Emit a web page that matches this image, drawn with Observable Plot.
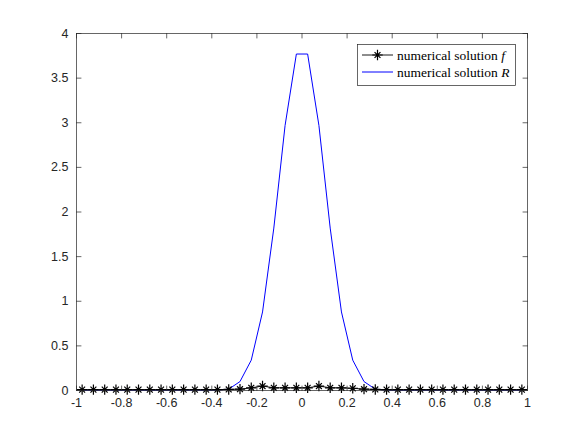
<!DOCTYPE html>
<html><head><meta charset="utf-8">
<script src="https://cdn.jsdelivr.net/npm/d3@7"></script>
<script src="https://cdn.jsdelivr.net/npm/@observablehq/plot@0.6"></script>
<style>
body{margin:0;background:#fff}
#chart{position:relative;width:584px;height:438px}
</style>
</head><body><div id="chart"></div>
<script>
// grid cell centres
const xs = [-0.975,-0.925,-0.875,-0.825,-0.775,-0.725,-0.675,-0.625,-0.575,-0.525,
            -0.475,-0.425,-0.375,-0.325,-0.275,-0.225,-0.175,-0.125,-0.075,-0.025,
             0.025, 0.075, 0.125, 0.175, 0.225, 0.275, 0.325, 0.375, 0.425, 0.475,
             0.525, 0.575, 0.625, 0.675, 0.725, 0.775, 0.825, 0.875, 0.925, 0.975];
// numerical solution f (black stars)
const fVals = [0.01,0.01,0.01,0.01,0.01,0.01,0.01,0.01,0.01,0.01,
               0.01,0.01,0.01,0.012,0.015,0.03,0.05,0.03,0.03,0.03,
               0.03,0.05,0.03,0.03,0.025,0.015,0.012,0.01,0.01,0.01,
               0.01,0.01,0.01,0.01,0.01,0.01,0.01,0.01,0.01,0.01];
// numerical solution R (blue line)
const rVals = [0.003,0.003,0.003,0.003,0.003,0.003,0.003,0.003,0.003,0.003,
               0.003,0.003,0.004,0.015,0.10,0.34,0.88,1.82,2.97,3.77,
               3.77,2.97,1.82,0.88,0.34,0.10,0.015,0.004,0.003,0.003,
               0.003,0.003,0.003,0.003,0.003,0.003,0.003,0.003,0.003,0.003];
const xTicks = [-1,-0.8,-0.6,-0.4,-0.2,0,0.2,0.4,0.6,0.8,1];
const yTicks = [0,0.5,1,1.5,2,2.5,3,3.5,4];
const legendNames = ["numerical solution ", "numerical solution "];
const legendSymbols = ["f", "R"];

const data = xs.map((x, i) => ({x, f: fVals[i], r: rVals[i]}));

const star = {draw(ctx, size){
  const r = Math.sqrt(size / Math.PI);
  for (const a of [0, 45, 90, 135]) {
    const t = a * Math.PI / 180;
    const k = (a % 90 === 0) ? 1 : 0.8;
    ctx.moveTo(r * k * Math.cos(t), r * k * Math.sin(t));
    ctx.lineTo(-r * k * Math.cos(t), -r * k * Math.sin(t));
  }
}};
const tickShape = {draw(ctx, l){ ctx.moveTo(0, 0); ctx.lineTo(0, -l); }};
const axisColor = "#262626";
const tl = 4.5;
const fs = 12.5;
const starR = 5.2;

const chart = Plot.plot({
  width: 584, height: 438,
  marginLeft: 76, marginRight: 57, marginTop: 33, marginBottom: 48,
  x: {domain: [-1, 1]},
  y: {domain: [0, 4]},
  style: {fontFamily: "'Liberation Sans', Arial, sans-serif", fontSize: "12.5px", color: axisColor, background: "white"},
  marks: [
    Plot.line(data, {x: "x", y: "r", stroke: "#0000ff", strokeWidth: 1}),
    Plot.line(data, {x: "x", y: "f", stroke: "black", strokeWidth: 0.9}),
    Plot.dot(data, {x: "x", y: "f", symbol: star, r: starR, stroke: "black", strokeWidth: 1.2}),
    Plot.frame({stroke: axisColor, strokeWidth: 0.7}),
    Plot.axisX({ticks: xTicks, tickSize: 0, tickPadding: 8, fontSize: fs, tickFormat: d => String(d), label: null}),
    Plot.axisY({ticks: yTicks, tickSize: 0, tickPadding: 8, fontSize: fs, tickFormat: d => String(d), label: null}),
    Plot.vector(xTicks, {x: d => d, frameAnchor: "bottom", length: tl, rotate: 0, anchor: "start", shape: tickShape, stroke: axisColor, strokeWidth: 0.7}),
    Plot.vector(xTicks, {x: d => d, frameAnchor: "top", length: tl, rotate: 180, anchor: "start", shape: tickShape, stroke: axisColor, strokeWidth: 0.7}),
    Plot.vector(yTicks, {y: d => d, frameAnchor: "left", length: tl, rotate: 90, anchor: "start", shape: tickShape, stroke: axisColor, strokeWidth: 0.7}),
    Plot.vector(yTicks, {y: d => d, frameAnchor: "right", length: tl, rotate: -90, anchor: "start", shape: tickShape, stroke: axisColor, strokeWidth: 0.7})
  ]
});
document.getElementById("chart").appendChild(chart);

// legend
const svg = d3.select(chart);
const lg = svg.append("g").attr("font-family", "'Liberation Serif', 'DejaVu Serif', serif").attr("font-size", "13.5px").attr("text-anchor", "start");
lg.append("rect").attr("x", 357.5).attr("y", 44.5).attr("width", 158).attr("height", 41)
  .attr("fill", "white").attr("stroke", axisColor).attr("stroke-width", 0.7);
const rows = [55, 72];
lg.append("line").attr("x1", 362).attr("x2", 393).attr("y1", rows[0]).attr("y2", rows[0]).attr("stroke", "black").attr("stroke-width", 0.9);
const sp = d3.path(); star.draw(sp, starR * starR * Math.PI);
lg.append("path").attr("d", sp.toString()).attr("transform", `translate(377.5,${rows[0]})`).attr("stroke", "black").attr("stroke-width", 1.2).attr("fill", "none");
lg.append("line").attr("x1", 362).attr("x2", 393).attr("y1", rows[1]).attr("y2", rows[1]).attr("stroke", "#0000ff").attr("stroke-width", 1);
legendNames.forEach((n, i) => {
  const t = lg.append("text").attr("x", 397).attr("y", rows[i]).attr("dy", "0.35em").attr("fill", "black").attr("text-anchor", "start");
  t.append("tspan").text(n);
  t.append("tspan").attr("font-style", "italic").text(legendSymbols[i]);
});
</script>
</body></html>
